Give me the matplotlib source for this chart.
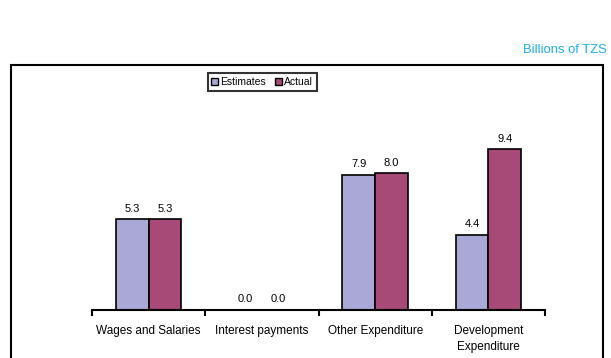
import numpy as np
import matplotlib.pyplot as plt
from matplotlib.patches import Rectangle

plt.rcParams['font.family'] = ['Liberation Sans', 'DejaVu Sans']

categories = ['Wages and Salaries', 'Interest payments', 'Other Expenditure', 'Development\nExpenditure']
estimates = [5.3, 0.0, 7.9, 4.4]
actual = [5.3, 0.0, 8.0, 9.4]

W, H = 611, 358
fig = plt.figure(figsize=(W / 100, H / 100), dpi=100)

# outer frame (bottom runs off the image)
fig.patches.append(Rectangle((11 / W, -0.05), (603 - 11) / W, (H - 65) / H + 0.05,
                             transform=fig.transFigure, fill=False, edgecolor='black',
                             linewidth=1.5))
fig.text(607 / W, 1 - 50 / H, 'Billions of TZS', color='#1AAFF0', fontsize=9.4,
         ha='right', va='center')

ax = fig.add_axes([92 / W, 1 - 310 / H, (545 - 92) / W, (310 - 122) / H])
x = np.arange(len(categories))
w = 0.29
b1 = ax.bar(x - w / 2, estimates, w, color='#A9A8D6', edgecolor='black', linewidth=1.2,
            label='Estimates')
b2 = ax.bar(x + w / 2, actual, w, color='#A84A78', edgecolor='black', linewidth=1.2,
            label='Actual')
for bars in (b1, b2):
    for r in bars:
        ax.annotate(f'{r.get_height():.1f}', (r.get_x() + r.get_width() / 2, r.get_height()),
                    xytext=(0, 4), textcoords='offset points', ha='center', va='bottom',
                    fontsize=8)

ax.set_xlim(-0.5, len(categories) - 0.5)
ax.set_ylim(0, 11)
for s in ['top', 'right', 'left']:
    ax.spines[s].set_visible(False)
ax.spines['bottom'].set_linewidth(1.5)
ax.set_yticks([])
ax.set_xticks(np.arange(len(categories) + 1) - 0.5)
ax.set_xticklabels([])
ax.tick_params(axis='x', direction='out', length=4, width=1.5)
for i, c in enumerate(categories):
    ax.text(i, -0.85, c, ha='center', va='top', fontsize=8.5, linespacing=1.45)

leg = fig.legend(loc='center', bbox_to_anchor=(262 / W, 1 - 82 / H), ncol=2, fontsize=7.5,
                 frameon=True, fancybox=False, shadow=False, handlelength=0.7,
                 handleheight=0.7, handletextpad=0.2, columnspacing=0.8,
                 borderpad=0.35, borderaxespad=0)
leg.get_frame().set_edgecolor('black')
leg.get_frame().set_linewidth(1.5)
for h in leg.legend_handles:
    h.set_linewidth(1.0)

fig.savefig('out.png', dpi=100)
